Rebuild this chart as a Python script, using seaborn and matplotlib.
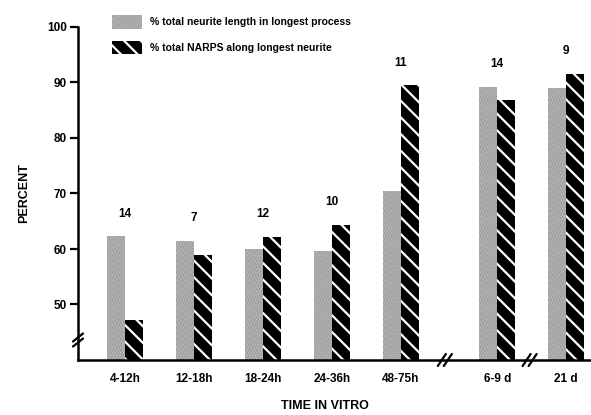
import numpy as np
import pandas as pd
import matplotlib
matplotlib.use("Agg")
import matplotlib.pyplot as plt
import seaborn as sns

periods = ["4-12h", "12-18h", "18-24h", "24-36h", "48-75h", "6-9 d", "21 d"]
period_pos = [0, 1, 2, 3, 4, 5.4, 6.4]
length_pct = [62.3, 61.5, 60.0, 59.7, 70.5, 89.2, 89.0]
narps_pct = [47.2, 59.0, 62.2, 64.3, 89.5, 86.9, 91.6]
n_cells = [14, 7, 12, 10, 11, 14, 9]
series = ["% total neurite length in longest process",
          "% total NARPS along longest neurite"]

sns.set_theme(style="white")
plt.rcParams["font.family"] = ["Liberation Sans", "DejaVu Sans"]
plt.rcParams["font.weight"] = "bold"
plt.rcParams["axes.labelweight"] = "bold"
plt.rcParams["text.color"] = "black"
plt.rcParams["axes.labelcolor"] = "black"
plt.rcParams["xtick.color"] = "black"
plt.rcParams["ytick.color"] = "black"
plt.rcParams["hatch.linewidth"] = 1.6

df = pd.DataFrame({
    "pos": period_pos * 2,
    "pct": length_pct + narps_pct,
    "series": [series[0]] * len(periods) + [series[1]] * len(periods),
})

fig = plt.figure(figsize=(5.91, 4.15), dpi=100)
ax = fig.add_axes([78 / 591, 55 / 415, 513 / 591, 333 / 415])
sns.barplot(data=df, x="pos", y="pct", hue="series", native_scale=True,
            width=0.52, gap=0, ax=ax, legend=False)

for bar in ax.containers[0]:
    bar.set_facecolor("#cfcfcf")
    bar.set_edgecolor("#8c8c8c")
    bar.set_hatch("......")
    bar.set_linewidth(0)
for bar in ax.containers[1]:
    bar.set_facecolor("black")
    bar.set_edgecolor("white")
    bar.set_hatch("\\\\")
    bar.set_linewidth(0)

# n above each group
for p, a, b, n in zip(period_pos, length_pct, narps_pct, n_cells):
    ax.text(p, max(a, b) + 3.0, str(n), ha="center", va="bottom",
            fontsize=8.5, fontweight="bold")

ax.set_xlim(-0.68, 6.76)
ax.set_ylim(40, 100)
ax.set_yticks([50, 60, 70, 80, 90, 100])
ax.set_xticks(period_pos)
ax.set_xticklabels(periods)
ax.tick_params(axis="y", left=True, length=6, width=1.6, direction="out",
               labelsize=8.5, pad=2)
ax.tick_params(axis="x", bottom=False, labelsize=8.5, pad=3)
for lab in ax.get_xticklabels() + ax.get_yticklabels():
    lab.set_fontweight("bold")

sns.despine(ax=ax)
for side in ("left", "bottom"):
    ax.spines[side].set_linewidth(1.8)
    ax.spines[side].set_color("black")

ax.set_xlabel("")
ax.set_ylabel("PERCENT", fontsize=9, fontweight="heavy", labelpad=12)
fig.text(325 / 591, 9 / 415, "TIME IN VITRO", ha="center", va="center",
         fontsize=9, fontweight="heavy")

# axis breaks
ypx = 60 / 333  # data units per pixel on y
xpx = 7.44 / 513
yt = ax.get_yaxis_transform()
for off in (-2.5, 2.5):
    yc = 43.6 + off * ypx
    ax.plot([-5 / 513, 5 / 513], [yc - 4 * ypx, yc + 4 * ypx], color="black",
            lw=1.6, transform=yt, clip_on=False)
xt = ax.get_xaxis_transform()
for xb in (4.64, 5.87):
    for off in (-3, 3):
        xc = xb + off * xpx
        ax.plot([xc - 4 * xpx, xc + 4 * xpx], [-6 / 333, 6 / 333], color="black",
                lw=1.6, transform=xt, clip_on=False)

handles = [ax.containers[0][0], ax.containers[1][0]]
fig.legend(handles, series, loc="upper left", bbox_to_anchor=(103 / 591, 1 - 6 / 415),
           frameon=False, fontsize=7.5, handlelength=2.8, handleheight=1.6,
           labelspacing=1.15, handletextpad=0.8)

fig.savefig("out.png", dpi=100)
